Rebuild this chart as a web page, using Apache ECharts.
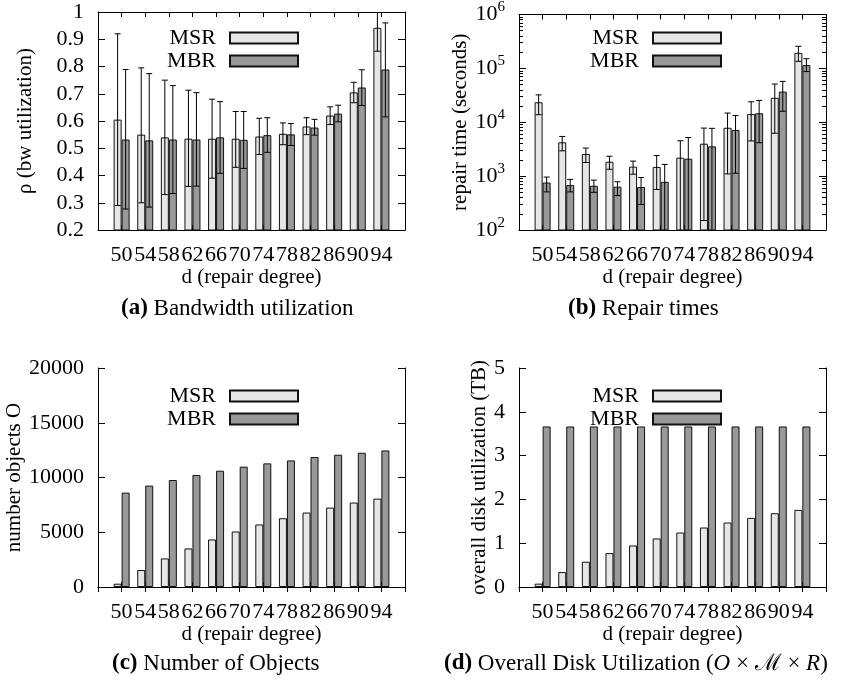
<!DOCTYPE html>
<html>
<head>
<meta charset="utf-8">
<script src="https://cdn.jsdelivr.net/npm/echarts@6/dist/echarts.min.js"></script>
<style>
  html, body { margin: 0; padding: 0; background: #fff; }
  #main { width: 851px; height: 683px; }
</style>
</head>
<body>
<div id="main"></div>
<script>
// repair degree d
var categories = ['50', '54', '58', '62', '66', '70', '74', '78', '82', '86', '90', '94'];

// (a) bandwidth utilization
var bwMSR     = [0.605, 0.55, 0.54, 0.535, 0.535, 0.535, 0.543, 0.553, 0.58, 0.62, 0.705, 0.942];
var bwMSRLow  = [0.29, 0.30, 0.33, 0.36, 0.39, 0.43, 0.477, 0.513, 0.55, 0.587, 0.667, 0.856];
var bwMSRHigh = [0.92, 0.795, 0.75, 0.713, 0.68, 0.635, 0.61, 0.593, 0.612, 0.652, 0.742, 1.0];
var bwMBR     = [0.532, 0.529, 0.532, 0.532, 0.54, 0.531, 0.548, 0.551, 0.576, 0.627, 0.723, 0.789];
var bwMBRLow  = [0.277, 0.284, 0.334, 0.361, 0.408, 0.426, 0.485, 0.51, 0.548, 0.597, 0.657, 0.615];
var bwMBRHigh = [0.789, 0.774, 0.73, 0.704, 0.671, 0.635, 0.612, 0.591, 0.606, 0.658, 0.788, 0.96];

// (b) repair times (seconds)
var rtMSR     = [23500, 4250, 2580, 1850, 1500, 1480, 2200, 4000, 7900, 14200, 28400, 194000];
var rtMSRLow  = [13800, 2950, 1790, 1340, 1085, 565, 80, 150, 1100, 4500, 6250, 135000];
var rtMSRHigh = [32200, 5450, 3320, 2340, 1900, 2410, 4530, 7800, 14800, 24000, 51200, 257000];
var rtMBR     = [760, 683, 663, 637, 628, 785, 2100, 3570, 7200, 14700, 37000, 115000];
var rtMBRLow  = [510, 510, 500, 435, 298, 80, 80, 80, 1130, 4170, 16000, 87300];
var rtMBRHigh = [960, 870, 843, 785, 942, 1650, 5210, 7710, 13300, 25400, 57300, 151000];

// (c) number of objects
var objMSR = [300, 1550, 2610, 3520, 4340, 5070, 5710, 6280, 6800, 7250, 7710, 8070];
var objMBR = [8620, 9260, 9770, 10230, 10620, 10990, 11290, 11560, 11870, 12080, 12260, 12470];

// (d) overall disk utilization (TB)
var diskMSR = [0.076, 0.34, 0.577, 0.774, 0.948, 1.108, 1.244, 1.358, 1.472, 1.578, 1.684, 1.76];
var diskMBR = [3.665, 3.665, 3.665, 3.665, 3.665, 3.665, 3.665, 3.665, 3.665, 3.665, 3.665, 3.665];

var FONT = 'Liberation Serif';
var MSR_COLOR = '#e6e6e6';
var MBR_COLOR = '#999999';

// one empty slot on both sides, like gnuplot's xrange
var xData = [''].concat(categories, ['']);
function pad(arr) { return ['-'].concat(arr, ['-']); }
function errData(low, high) {
  return low.map(function (l, i) { return [i + 1, l, high[i]]; });
}

var grids = [
  { left: 98, top: 12, width: 307, height: 218 },
  { left: 519, top: 11, width: 307, height: 219 },
  { left: 98, top: 368, width: 307, height: 219 },
  { left: 519, top: 368, width: 307, height: 219 }
];

var xAxes = [];
grids.forEach(function (g, gi) {
  xAxes.push({
    type: 'category', gridIndex: gi, data: xData, boundaryGap: false,
    axisLine: { lineStyle: { color: '#000', width: 1 } },
    axisTick: { inside: true, length: 5, lineStyle: { color: '#000' } },
    axisLabel: { interval: 0, margin: 14, color: '#000', fontFamily: FONT, fontSize: 22 },
    name: 'd (repair degree)', nameLocation: 'middle', nameGap: 35,
    nameTextStyle: { color: '#000', fontFamily: FONT, fontSize: 21 }
  });
  xAxes.push({
    type: 'category', gridIndex: gi, data: xData, boundaryGap: false, position: 'top',
    axisLine: { lineStyle: { color: '#000', width: 1 } },
    axisTick: { inside: true, length: 5, lineStyle: { color: '#000' } },
    axisLabel: { show: false }
  });
});

function plain(v) { return String(v); }

function leftAxis(gi, opts) {
  return Object.assign({
    type: 'value', gridIndex: gi, position: 'left',
    axisLine: { show: true, lineStyle: { color: '#000', width: 1 } },
    axisTick: { show: true, inside: true, length: 7, lineStyle: { color: '#000' } },
    splitLine: { show: false },
    axisLabel: { margin: 14, color: '#000', fontFamily: FONT, fontSize: 22, formatter: plain },
    nameLocation: 'middle',
    nameTextStyle: { color: '#000', fontFamily: FONT, fontSize: 21 }
  }, opts);
}
function rightAxis(gi, opts) {
  return Object.assign({
    type: 'value', gridIndex: gi, position: 'right',
    axisLine: { show: true, lineStyle: { color: '#000', width: 1 } },
    axisTick: { show: true, inside: true, length: 7, lineStyle: { color: '#000' } },
    splitLine: { show: false },
    axisLabel: { show: false }
  }, opts);
}

// log-spaced minor ticks for the repair time axis
var minorTicks = [];
for (var e = 2; e < 6; e++) {
  for (var m = 2; m <= 9; m++) minorTicks.push(m * Math.pow(10, e));
}

var logOpts = { type: 'log', logBase: 10, min: 100, max: 1000000 };

var yAxes = [
  leftAxis(0, { min: 0.2, max: 1, interval: 0.1, name: 'ρ (bw utilization)', nameGap: 62 }),
  rightAxis(0, { min: 0.2, max: 1, interval: 0.1 }),
  leftAxis(1, Object.assign({}, logOpts, {
    name: 'repair time (seconds)', nameGap: 48,
    axisLabel: {
      margin: 14, color: '#000', fontFamily: FONT, fontSize: 22,
      formatter: function (v) { return '10{sup|' + Math.round(Math.log10(v)) + '}'; },
      rich: { sup: { fontFamily: FONT, fontSize: 15, padding: [0, 0, 14, 0] } }
    }
  })),
  rightAxis(1, Object.assign({}, logOpts)),
  Object.assign({}, logOpts, {
    gridIndex: 1, position: 'left',
    axisLine: { show: false }, splitLine: { show: false }, axisLabel: { show: false },
    axisTick: { show: true, inside: true, length: 4, customValues: minorTicks, lineStyle: { color: '#000' } }
  }),
  Object.assign({}, logOpts, {
    gridIndex: 1, position: 'right',
    axisLine: { show: false }, splitLine: { show: false }, axisLabel: { show: false },
    axisTick: { show: true, inside: true, length: 4, customValues: minorTicks, lineStyle: { color: '#000' } }
  }),
  leftAxis(2, { min: 0, max: 20000, interval: 5000, name: 'number objects O', nameGap: 62 }),
  rightAxis(2, { min: 0, max: 20000, interval: 5000 }),
  leftAxis(3, { min: 0, max: 5, interval: 1, name: 'overall disk utilization (TB)', nameGap: 26 }),
  rightAxis(3, { min: 0, max: 5, interval: 1 })
];

function barSeries(name, data, xi, yi, color) {
  return {
    name: name, type: 'bar', xAxisIndex: xi, yAxisIndex: yi,
    data: pad(data), barWidth: 8, barGap: '0%',
    itemStyle: { color: color, borderColor: '#111', borderWidth: 1 },
    emphasis: { disabled: true },
    animation: false
  };
}

function errSeries(name, low, high, xi, yi, offset) {
  return {
    name: name, type: 'custom', xAxisIndex: xi, yAxisIndex: yi, clip: true, z: 5,
    data: errData(low, high),
    renderItem: function (params, api) {
      var p1 = api.coord([api.value(0), api.value(1)]);
      var p2 = api.coord([api.value(0), api.value(2)]);
      var x = p1[0] + offset;
      var c = 3;
      var st = { stroke: '#000', lineWidth: 1 };
      return {
        type: 'group',
        children: [
          { type: 'line', shape: { x1: x, y1: p1[1], x2: x, y2: p2[1] }, style: st },
          { type: 'line', shape: { x1: x - c, y1: p1[1], x2: x + c, y2: p1[1] }, style: st },
          { type: 'line', shape: { x1: x - c, y1: p2[1], x2: x + c, y2: p2[1] }, style: st }
        ]
      };
    },
    animation: false
  };
}

var series = [
  barSeries('MSR', bwMSR, 0, 0, MSR_COLOR),
  barSeries('MBR', bwMBR, 0, 0, MBR_COLOR),
  errSeries('MSR err a', bwMSRLow, bwMSRHigh, 0, 0, -4),
  errSeries('MBR err a', bwMBRLow, bwMBRHigh, 0, 0, 4),
  barSeries('MSR', rtMSR, 2, 2, MSR_COLOR),
  barSeries('MBR', rtMBR, 2, 2, MBR_COLOR),
  errSeries('MSR err b', rtMSRLow, rtMSRHigh, 2, 2, -4),
  errSeries('MBR err b', rtMBRLow, rtMBRHigh, 2, 2, 4),
  barSeries('MSR', objMSR, 4, 6, MSR_COLOR),
  barSeries('MBR', objMBR, 4, 6, MBR_COLOR),
  barSeries('MSR', diskMSR, 6, 8, MSR_COLOR),
  barSeries('MBR', diskMBR, 6, 8, MBR_COLOR)
];

function legendAt(right, top) {
  return {
    data: ['MSR', 'MBR'], orient: 'vertical', align: 'right', z: 20,
    right: right, top: top, itemWidth: 68, itemHeight: 11, itemGap: 1,
    icon: 'rect', selectedMode: false,
    textStyle: { color: '#000', fontFamily: FONT, fontSize: 22, padding: [0, 9, 0, 0] }
  };
}

var capRich = {
  b: { fontFamily: FONT, fontSize: 23, fontWeight: 'bold', color: '#000' },
  n: { fontFamily: FONT, fontSize: 23, fontWeight: 'normal', color: '#000' },
  i: { fontFamily: FONT, fontSize: 23, fontWeight: 'normal', fontStyle: 'italic', color: '#000' }
};
function caption(text, left, top) {
  return {
    text: text, left: left, top: top, padding: 0,
    textStyle: { fontWeight: 'normal', fontFamily: FONT, rich: capRich }
  };
}

var chart = echarts.init(document.getElementById('main'), null, { renderer: 'canvas' });
chart.setOption({
  backgroundColor: '#fff',
  animation: false,
  title: [
    caption('{b|(a)}{n| Bandwidth utilization}', 121, 297),
    caption('{b|(b)}{n| Repair times}', 568, 297),
    caption('{b|(c)}{n| Number of Objects}', 112, 652),
    caption('{b|(d)}{n| Overall Disk Utilization (}{i|O}{n| × }{n|ℳ}{n| × }{i|R}{n|)}', 444, 652)
  ],
  legend: [legendAt(547, 22), legendAt(124, 22), legendAt(547, 380), legendAt(124, 380)],
  grid: grids,
  xAxis: xAxes,
  yAxis: yAxes,
  series: series
});
</script>
</body>
</html>
